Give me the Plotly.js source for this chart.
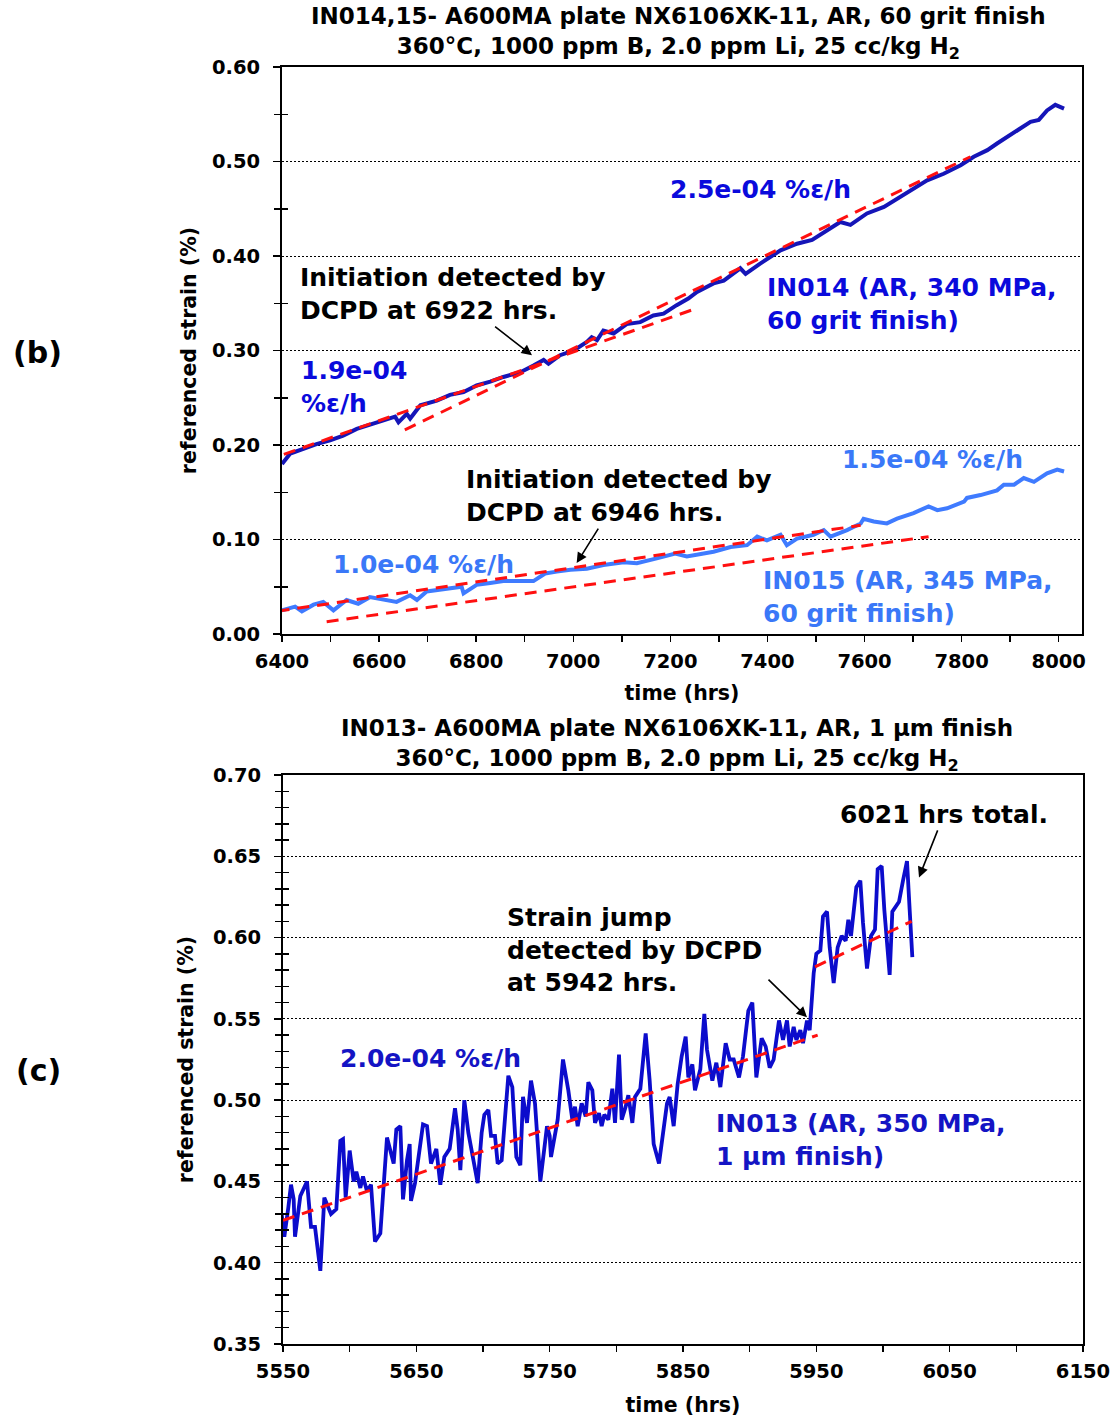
<!DOCTYPE html>
<html>
<head>
<meta charset="utf-8">
<script src="https://cdn.plot.ly/plotly-3.0.1.min.js"></script>
<style>html,body{margin:0;padding:0;background:#fff;}#chart{width:1115px;height:1418px;}</style>
</head>
<body>
<div id="chart"></div>
<script>
// ---------- Panel (b): IN014 / IN015 ----------
const in014Time = [6400, 6417, 6444, 6471, 6499, 6526, 6554, 6581, 6609, 6633, 6640, 6657, 6664, 6685, 6719, 6746, 6774, 6801, 6829, 6856, 6891, 6918, 6939, 6949, 6973, 7001, 7028, 7038, 7049, 7062, 7083, 7110, 7138, 7165, 7186, 7213, 7237, 7255, 7289, 7310, 7344, 7355, 7385, 7427, 7461, 7492, 7523, 7550, 7571, 7605, 7640, 7674, 7708, 7729, 7763, 7798, 7825, 7853, 7873, 7894, 7915, 7942, 7959, 7976, 7993, 8011];
const in014Strain = [0.180, 0.191, 0.196, 0.201, 0.205, 0.210, 0.217, 0.221, 0.226, 0.230, 0.224, 0.233, 0.228, 0.242, 0.247, 0.253, 0.256, 0.263, 0.267, 0.272, 0.277, 0.284, 0.290, 0.286, 0.295, 0.300, 0.309, 0.314, 0.311, 0.321, 0.318, 0.328, 0.330, 0.337, 0.339, 0.348, 0.355, 0.362, 0.371, 0.374, 0.387, 0.381, 0.392, 0.406, 0.413, 0.417, 0.427, 0.436, 0.433, 0.445, 0.452, 0.463, 0.473, 0.480, 0.487, 0.496, 0.505, 0.512, 0.519, 0.526, 0.532, 0.542, 0.544, 0.554, 0.560, 0.556];

const in015Time = [6400, 6427, 6441, 6465, 6485, 6506, 6533, 6557, 6581, 6609, 6636, 6664, 6678, 6698, 6733, 6770, 6774, 6801, 6829, 6856, 6918, 6932, 6942, 6966, 6994, 7028, 7062, 7104, 7131, 7172, 7210, 7234, 7255, 7289, 7324, 7358, 7379, 7399, 7427, 7440, 7461, 7495, 7516, 7530, 7564, 7592, 7598, 7619, 7646, 7667, 7701, 7732, 7750, 7770, 7805, 7811, 7839, 7873, 7887, 7908, 7928, 7949, 7976, 7997, 8011];
const in015Strain = [0.025, 0.029, 0.024, 0.031, 0.034, 0.025, 0.036, 0.032, 0.039, 0.036, 0.034, 0.041, 0.036, 0.045, 0.047, 0.050, 0.043, 0.052, 0.054, 0.056, 0.056, 0.061, 0.064, 0.066, 0.068, 0.069, 0.073, 0.076, 0.075, 0.080, 0.085, 0.082, 0.084, 0.087, 0.092, 0.094, 0.103, 0.099, 0.105, 0.094, 0.101, 0.105, 0.110, 0.103, 0.110, 0.117, 0.122, 0.119, 0.117, 0.122, 0.128, 0.135, 0.131, 0.133, 0.140, 0.144, 0.147, 0.152, 0.158, 0.158, 0.165, 0.161, 0.170, 0.174, 0.172];

// fitted trend lines (end points)
const fit014aTime = [6365, 7245];  const fit014aStrain = [0.183, 0.343];  // 1.9e-04 %e/h
const fit014bTime = [6653, 7818];  const fit014bStrain = [0.216, 0.505];  // 2.5e-04 %e/h
const fit015aTime = [6350, 7592];  const fit015aStrain = [0.021, 0.115];  // 1.0e-04 %e/h
const fit015bTime = [6492, 7732];  const fit015bStrain = [0.013, 0.103];  // 1.5e-04 %e/h

// ---------- Panel (c): IN013 ----------
const in013Time = [5549, 5551, 5554, 5556, 5558, 5559, 5563, 5568, 5571, 5574, 5578, 5581, 5586, 5590, 5593, 5595, 5597, 5600, 5603, 5605, 5608, 5610, 5613, 5616, 5619, 5623, 5628, 5630, 5633, 5635, 5638, 5640, 5643, 5645, 5646, 5649, 5651, 5655, 5658, 5661, 5665, 5668, 5671, 5675, 5679, 5681, 5683, 5686, 5689, 5693, 5696, 5699, 5701, 5704, 5706, 5709, 5711, 5714, 5719, 5722, 5725, 5728, 5730, 5733, 5736, 5739, 5743, 5748, 5750, 5751, 5754, 5756, 5760, 5764, 5767, 5769, 5771, 5774, 5777, 5779, 5782, 5784, 5787, 5789, 5791, 5794, 5797, 5799, 5802, 5804, 5807, 5809, 5812, 5814, 5818, 5822, 5825, 5828, 5832, 5835, 5838, 5840, 5843, 5846, 5849, 5852, 5854, 5857, 5859, 5863, 5866, 5868, 5872, 5875, 5878, 5882, 5885, 5888, 5892, 5895, 5899, 5902, 5905, 5909, 5912, 5915, 5918, 5922, 5925, 5928, 5930, 5933, 5935, 5938, 5940, 5943, 5945, 5948, 5950, 5953, 5955, 5958, 5960, 5963, 5966, 5969, 5972, 5974, 5976, 5980, 5983, 5985, 5988, 5991, 5994, 5996, 5999, 6001, 6005, 6007, 6010, 6012, 6015, 6018, 6020, 6022];
const in013Strain = [0.430, 0.416, 0.434, 0.448, 0.439, 0.416, 0.441, 0.450, 0.422, 0.422, 0.395, 0.440, 0.430, 0.433, 0.475, 0.476, 0.440, 0.469, 0.450, 0.456, 0.446, 0.453, 0.444, 0.448, 0.413, 0.418, 0.477, 0.471, 0.461, 0.482, 0.484, 0.439, 0.463, 0.473, 0.438, 0.449, 0.460, 0.485, 0.484, 0.461, 0.470, 0.448, 0.465, 0.470, 0.495, 0.482, 0.457, 0.500, 0.480, 0.461, 0.449, 0.480, 0.491, 0.494, 0.478, 0.478, 0.461, 0.463, 0.515, 0.508, 0.465, 0.460, 0.502, 0.486, 0.512, 0.498, 0.450, 0.484, 0.478, 0.465, 0.480, 0.488, 0.525, 0.506, 0.488, 0.496, 0.484, 0.498, 0.490, 0.511, 0.506, 0.486, 0.492, 0.484, 0.491, 0.488, 0.507, 0.486, 0.528, 0.488, 0.496, 0.503, 0.486, 0.502, 0.507, 0.541, 0.512, 0.473, 0.461, 0.478, 0.498, 0.502, 0.484, 0.510, 0.527, 0.539, 0.514, 0.522, 0.506, 0.519, 0.553, 0.531, 0.512, 0.523, 0.508, 0.535, 0.525, 0.525, 0.514, 0.527, 0.555, 0.560, 0.514, 0.538, 0.533, 0.520, 0.525, 0.549, 0.537, 0.549, 0.533, 0.545, 0.537, 0.543, 0.535, 0.549, 0.543, 0.578, 0.590, 0.592, 0.613, 0.616, 0.594, 0.572, 0.594, 0.601, 0.598, 0.611, 0.601, 0.631, 0.635, 0.609, 0.581, 0.601, 0.605, 0.642, 0.644, 0.617, 0.577, 0.616, 0.620, 0.622, 0.635, 0.647, 0.617, 0.588];

const fit013aTime = [5550, 5951];  const fit013aStrain = [0.426, 0.540];  // 2.0e-04 %e/h
const fit013bTime = [5949, 6021.5]; const fit013bStrain = [0.582, 0.610];

// ---------- styles ----------
const FONT = 'DejaVu Sans, Verdana, sans-serif';
const C014 = '#1515B8', C014T = '#0A0ADC';
const C015 = '#3F7BFF', C015T = '#3A78F8';
const C013 = '#0C0CCC', C013T = '#1414C4';
const RED = '#FF1010';
const W = 1115, H = 1418;
const px = v => v / W, py = v => 1 - v / H;

const dataLine = (x, y, color, xa, ya, w) => ({x, y, type: 'scatter', mode: 'lines', xaxis: xa, yaxis: ya,
  line: {color, width: w}, showlegend: false, hoverinfo: 'x+y'});
const fitLine = (x, y, xa, ya) => ({x, y, type: 'scatter', mode: 'lines', xaxis: xa, yaxis: ya,
  line: {color: RED, width: 3, dash: '12px,8px'}, showlegend: false, hoverinfo: 'skip'});
// empty helper traces so the overlay tick axes (inner half of the crossing minor ticks) are drawn
const tickHelper = (xa, ya) => ({x: [], y: [], type: 'scatter', mode: 'lines', xaxis: xa, yaxis: ya, showlegend: false, hoverinfo: 'skip'});

const traces = [
  dataLine(in014Time, in014Strain, C014, 'x', 'y', 4),
  dataLine(in015Time, in015Strain, C015, 'x', 'y', 4),
  fitLine(fit014aTime, fit014aStrain, 'x', 'y'),
  fitLine(fit014bTime, fit014bStrain, 'x', 'y'),
  fitLine(fit015aTime, fit015aStrain, 'x', 'y'),
  fitLine(fit015bTime, fit015bStrain, 'x', 'y'),
  dataLine(in013Time, in013Strain, C013, 'x2', 'y2', 3.8),
  fitLine(fit013aTime, fit013aStrain, 'x2', 'y2'),
  fitLine(fit013bTime, fit013bStrain, 'x2', 'y2'),
  tickHelper('x', 'y3'),
  tickHelper('x2', 'y4')
];

const tickFont = {family: FONT, size: 19.5, color: '#000', weight: 'bold'};
const titleFont = {family: FONT, size: 20.5, color: '#000', weight: 'bold'};
const axisCommon = {showline: true, linecolor: '#000', linewidth: 2, mirror: true, ticks: 'outside',
  ticklen: 7, tickwidth: 1.5, tickcolor: '#000', tickfont: tickFont, zeroline: false, fixedrange: true};
const innerTicks = (over, anchor, range, minorStep) => ({overlaying: over, anchor, side: 'left', range,
  showline: false, showgrid: false, zeroline: false, showticklabels: false, ticks: '', fixedrange: true,
  minor: {dtick: minorStep, tick0: range[0], ticks: 'inside', ticklen: 6, tickwidth: 1.5, tickcolor: '#000', showgrid: false}});

const layout = {
  width: W, height: H, margin: {l: 0, r: 0, t: 0, b: 0}, paper_bgcolor: '#fff', plot_bgcolor: '#fff',
  font: {family: FONT, color: '#000'}, showlegend: false,
  xaxis: Object.assign({}, axisCommon, {domain: [px(282), px(1082)], anchor: 'y', range: [6400, 8048],
    tickmode: 'linear', tick0: 6400, dtick: 200, showgrid: false, ticklabelstandoff: 3, ticklen: 6,
    minor: {dtick: 100, ticks: 'outside', ticklen: 6, tickwidth: 1.5, tickcolor: '#000', showgrid: false},
    title: {text: 'time (hrs)', font: titleFont, standoff: 13}}),
  yaxis: Object.assign({}, axisCommon, {domain: [py(634), py(67)], anchor: 'x', range: [0, 0.6],
    tickmode: 'linear', tick0: 0, dtick: 0.1, tickformat: '.2f', showgrid: true, gridcolor: '#000',
    gridwidth: 1, griddash: '2px,2px', ticklabelstandoff: 9,
    minor: {dtick: 0.05, ticks: 'outside', ticklen: 6, tickwidth: 1.5, tickcolor: '#000', showgrid: false},
    title: {text: 'referenced strain (%)', font: titleFont, standoff: 10}}),
  yaxis3: innerTicks('y', 'x', [0, 0.6], 0.05),
  xaxis2: Object.assign({}, axisCommon, {domain: [px(283), px(1083)], anchor: 'y2', range: [5550, 6150],
    tickmode: 'linear', tick0: 5550, dtick: 100, showgrid: false, ticklabelstandoff: 3, ticklen: 6,
    minor: {dtick: 50, ticks: 'outside', ticklen: 6, tickwidth: 1.5, tickcolor: '#000', showgrid: false},
    title: {text: 'time (hrs)', font: titleFont, standoff: 15}}),
  yaxis2: Object.assign({}, axisCommon, {domain: [py(1344), py(775)], anchor: 'x2', range: [0.35, 0.70],
    tickmode: 'linear', tick0: 0.35, dtick: 0.05, tickformat: '.2f', showgrid: true, gridcolor: '#000',
    gridwidth: 1, griddash: '2px,2px', ticklabelstandoff: 9,
    minor: {dtick: 0.01, ticks: 'outside', ticklen: 6, tickwidth: 1.5, tickcolor: '#000', showgrid: false},
    title: {text: 'referenced strain (%)', font: titleFont, standoff: 14}}),
  yaxis4: innerTicks('y2', 'x2', [0.35, 0.70], 0.01),
  annotations: []
};

const A = layout.annotations;
const txt = (text, x, y, color, size, xanchor) => A.push({text, xref: 'paper', yref: 'paper', x: px(x), y: py(y),
  xanchor: xanchor || 'left', yanchor: 'middle', align: xanchor === 'center' ? 'center' : 'left', showarrow: false,
  font: {family: FONT, size: size || 25, color, weight: 'bold'}});
// text with an arrow: (x, y) is the arrow head in data units, (ax, ay) the text-centre offset in px
const pointer = (text, xa, ya, x, y, ax, ay) => A.push({text, xref: xa, yref: ya, x, y, ax, ay,
  xanchor: 'center', yanchor: 'middle', align: 'left', showarrow: true,
  arrowhead: 2, arrowsize: 1.3, arrowwidth: 1.6, arrowcolor: '#000',
  font: {family: FONT, size: 25, color: '#000', weight: 'bold'}});

// titles
txt('IN014,15- A600MA plate NX6106XK-11, AR, 60 grit finish<br>360°C, 1000 ppm B, 2.0 ppm Li, 25 cc/kg H<sub>2</sub>', 678, 33, '#000', 23, 'center');
txt('IN013- A600MA plate NX6106XK-11, AR, 1 µm finish<br>360°C, 1000 ppm B, 2.0 ppm Li, 25 cc/kg H<sub>2</sub>', 677, 745, '#000', 23, 'center');
// panel labels
txt('(b)', 11, 352, '#000', 30);
txt('(c)', 14, 1070, '#000', 30);
// panel (b) texts
pointer('Initiation detected by<br>DCPD at 6922 hrs.', 'x', 'y', 6915, 0.295, -79, -61);
txt('2.5e-04 %ε/h', 668, 189, C014T);
txt('IN014 (AR, 340 MPa,<br>60 grit finish)', 765, 304, C014T);
txt('1.9e-04<br>%ε/h', 299, 387, C014T);
pointer('Initiation detected by<br>DCPD at 6946 hrs.', 'x', 'y', 7007, 0.075, 42, -67);
txt('1.5e-04 %ε/h', 840, 459, C015T);
txt('1.0e-04 %ε/h', 331, 564, C015T);
txt('IN015 (AR, 345 MPa,<br>60 grit finish)', 761, 597, C015T);
// panel (c) texts
pointer('6021 hrs total.', 'x2', 'y2', 6027, 0.637, 25, -63);
txt('Strain jump<br>detected by DCPD<br>at 5942 hrs.', 505, 950, '#000');
A.push({text: '', xref: 'x2', yref: 'y2', x: 5943, y: 0.551, ax: -40, ay: -39, showarrow: true,
  arrowhead: 2, arrowsize: 1.3, arrowwidth: 1.6, arrowcolor: '#000'});
txt('2.0e-04 %ε/h', 338, 1058, C013T);
txt('IN013 (AR, 350 MPa,<br>1 µm finish)', 714, 1140, C013T);

Plotly.newPlot('chart', traces, layout, {staticPlot: true, displayModeBar: false});
</script>
</body>
</html>
